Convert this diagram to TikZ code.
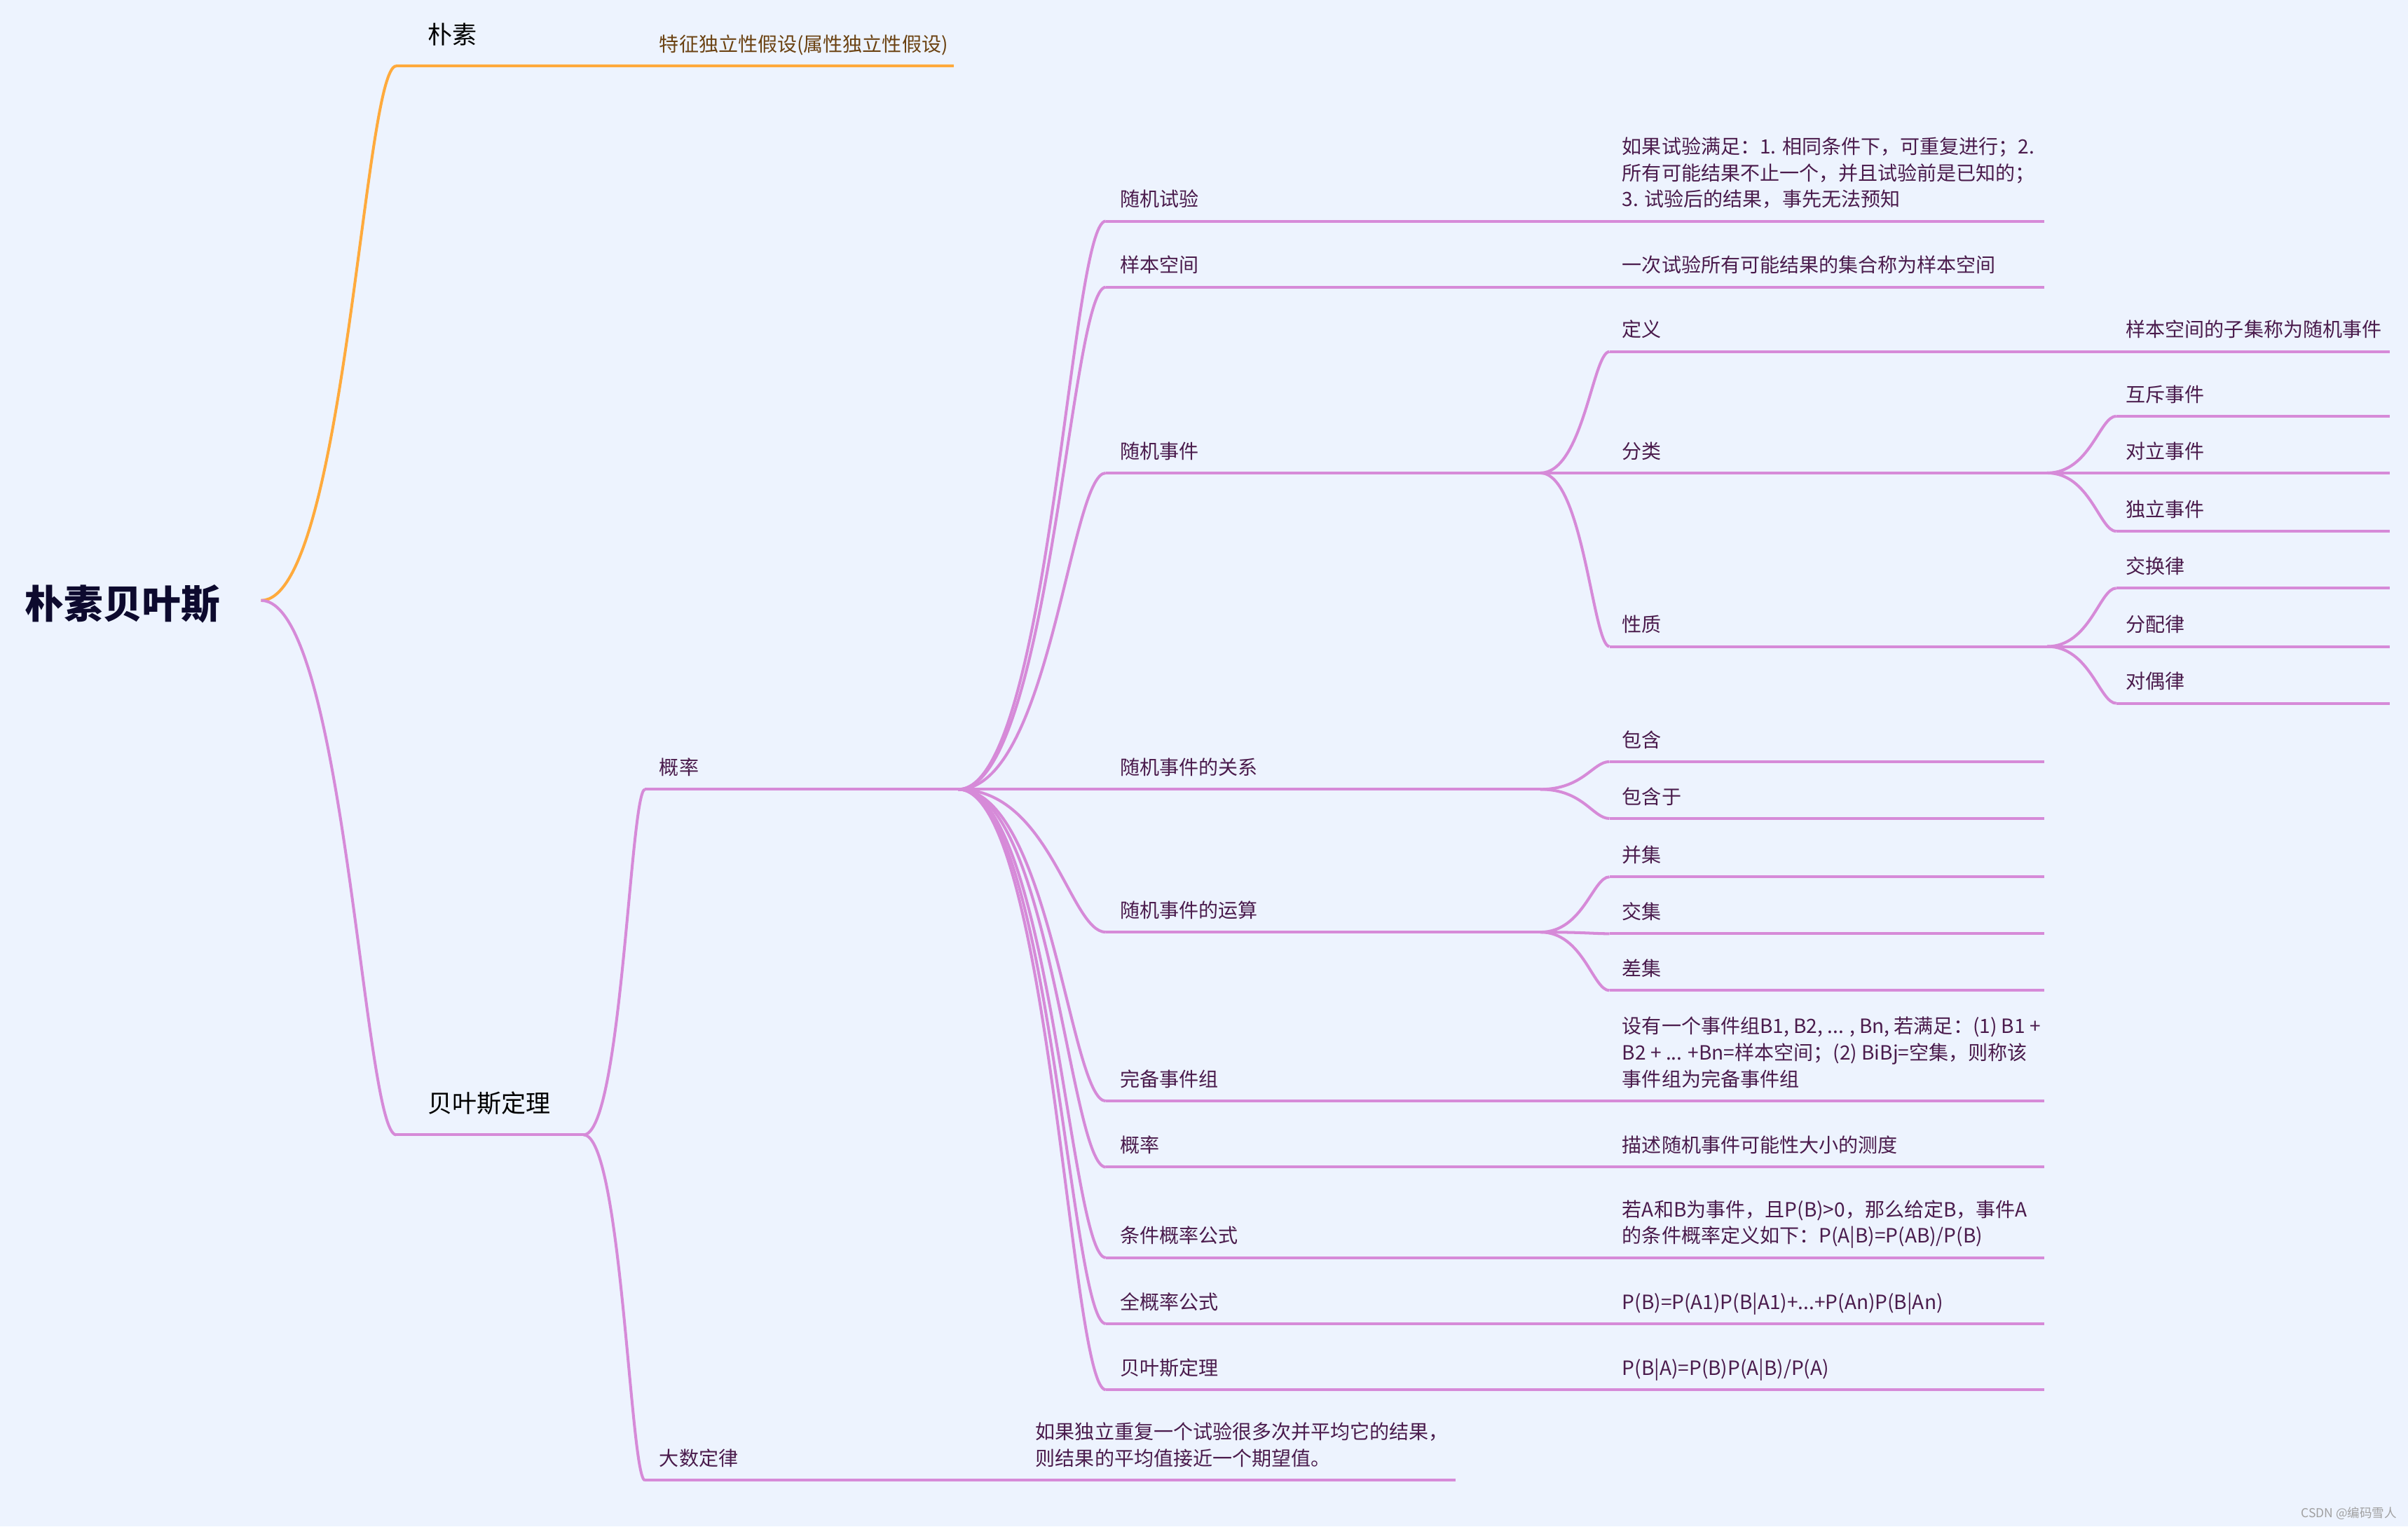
\documentclass[tikz,border=0pt]{standalone}
\usepackage{fontspec}
\setmainfont{Noto Sans CJK SC}
\usetikzlibrary{calc}
\definecolor{bg}{HTML}{EDF3FE}
\definecolor{orng}{HTML}{FFAA3C}
\definecolor{purp}{HTML}{D68AD8}
\definecolor{txt}{HTML}{4A1B4C}
\definecolor{brn}{HTML}{6B4212}
\definecolor{rootc}{HTML}{0D0A2E}
\definecolor{wmc}{HTML}{A0A0A0}
\tikzset{
  br/.style={draw=purp, line width=0.92pt},
  bro/.style={draw=orng, line width=0.92pt},
  lbl/.style={anchor=base west, inner sep=0pt, text=txt, font=\fontsize{6.4}{8.6}\selectfont},
  big/.style={anchor=base west, inner sep=0pt, text=black, yshift=2.5pt, font=\fontsize{8}{10}\selectfont},
}
\newcommand\mmlink[3][br]{\draw[#1] let \p1=(#2), \p2=(#3) in (\p1) .. controls ({\x1+0.62*(\x2-\x1)},\y1) and ({\x1+0.76*(\x2-\x1)},\y2) .. (\p2);}
\newcommand\mmtp[7][lbl]{\coordinate (#2s) at (#3,#5); \coordinate (#2e) at (#4,#5); \draw[br] (#2s) -- (#2e); \node[#1] (#2) at (#6,{#5-9.5}) {#7};}
\newcommand\mmlines[1]{\vbox{#1}}
\begin{document}
\begin{tikzpicture}[x=0.5pt,y=-0.5pt]
\fill[bg] (0,0) rectangle (1568,994);
\useasboundingbox (0,0) rectangle (1568,994);
% root
\node[anchor=base west, inner sep=0pt, text=rootc, font=\fontsize{12.7}{15}\selectfont\bfseries] (root) at (16,402.5) {朴素贝叶斯};
\coordinate (R) at (170,391);
% 朴素
\coordinate (a1s) at (258,43); \coordinate (a1e) at (415,43);
\draw[bro] (a1s) -- (a1e);
\node[big] (a1) at (278,33.5) {朴素};
\coordinate (a1ls) at (420,43); \coordinate (a1le) at (621,43);
\draw[bro] (a1ls) -- (a1le);
\node[lbl, text=brn] (a1l) at (429,33.5) {特征独立性假设(属性独立性假设)};
\mmlink[bro]{R}{a1s}
\mmlink[bro]{a1e}{a1ls}
% 贝叶斯定理
\mmtp[big]{a2}{258}{380}{739}{278}{贝叶斯定理}
\mmlink{R}{a2s}
\mmtp{b1}{420}{624}{514}{429}{概率}
\mmtp{b2}{420}{665}{964}{429}{大数定律}
\mmtp{b2l}{670}{948}{964}{674}{\mmlines{\hbox{如果独立重复一个试验很多次并平均它的结果，}\hbox{则结果的平均值接近一个期望值。}}}
\mmlink{a2e}{b1s}
\mmlink{a2e}{b2s}
\mmlink{b2e}{b2ls}
% level 3
\mmtp{c1}{720}{1040}{144}{729}{随机试验}
\mmtp{c1l}{1045}{1331}{144}{1056}{\mmlines{\hbox{如果试验满足：1. 相同条件下，可重复进行；2.}\hbox{所有可能结果不止一个，并且试验前是已知的；}\hbox{3. 试验后的结果，事先无法预知}}}
\mmtp{c2}{720}{1040}{187}{729}{样本空间}
\mmtp{c2l}{1045}{1331}{187}{1056}{一次试验所有可能结果的集合称为样本空间}
\mmtp{c3}{720}{1003}{308}{729}{随机事件}
\mmtp{d1}{1048}{1333}{229}{1056}{定义}
\mmtp{d1l}{1378}{1556}{229}{1384}{样本空间的子集称为随机事件}
\mmtp{d2}{1048}{1333}{308}{1056}{分类}
\mmtp{e1}{1378}{1556}{271}{1384}{互斥事件}
\mmtp{e2}{1378}{1556}{308}{1384}{对立事件}
\mmtp{e3}{1378}{1556}{346}{1384}{独立事件}
\mmtp{d3}{1048}{1333}{421}{1056}{性质}
\mmtp{e4}{1378}{1556}{383}{1384}{交换律}
\mmtp{e5}{1378}{1556}{421}{1384}{分配律}
\mmtp{e6}{1378}{1556}{458}{1384}{对偶律}
\mmtp{c4}{720}{1003}{514}{729}{随机事件的关系}
\mmtp{f1}{1048}{1331}{496}{1056}{包含}
\mmtp{f2}{1048}{1331}{533}{1056}{包含于}
\mmtp{c5}{720}{1003}{607}{729}{随机事件的运算}
\mmtp{g1}{1048}{1331}{571}{1056}{并集}
\mmtp{g2}{1048}{1331}{608}{1056}{交集}
\mmtp{g3}{1048}{1331}{645}{1056}{差集}
\mmtp{c6}{720}{1040}{717}{729}{完备事件组}
\mmtp{c6l}{1045}{1331}{717}{1056}{\mmlines{\hbox{设有一个事件组B1, B2, ... , Bn, 若满足：(1) B1 +}\hbox{B2 + ... +Bn=样本空间；(2) BiBj=空集，则称该}\hbox{事件组为完备事件组}}}
\mmtp{c7}{720}{1040}{760}{729}{概率}
\mmtp{c7l}{1045}{1331}{760}{1056}{描述随机事件可能性大小的测度}
\mmtp{c8}{720}{1040}{819}{729}{条件概率公式}
\mmtp{c8l}{1045}{1331}{819}{1056}{\mmlines{\hbox{若A和B为事件，且P(B)>0，那么给定B，事件A}\hbox{的条件概率定义如下：P(A|B)=P(AB)/P(B)}}}
\mmtp{c9}{720}{1040}{862}{729}{全概率公式}
\mmtp{c9l}{1045}{1331}{862}{1056}{P(B)=P(A1)P(B|A1)+...+P(An)P(B|An)}
\mmtp{c10}{720}{1040}{905}{729}{贝叶斯定理}
\mmtp{c10l}{1045}{1331}{905}{1056}{P(B|A)=P(B)P(A|B)/P(A)}
% links level 3
\foreach \c in {c1,c2,c3,c4,c5,c6,c7,c8,c9,c10} {\mmlink{b1e}{\c s}}
\foreach \c in {c1,c2,c6,c7,c8,c9,c10} {\mmlink{\c e}{\c ls}}
\foreach \c in {d1,d2,d3} {\mmlink{c3e}{\c s}}
\mmlink{d1e}{d1ls}
\foreach \c in {e1,e2,e3} {\mmlink{d2e}{\c s}}
\foreach \c in {e4,e5,e6} {\mmlink{d3e}{\c s}}
\foreach \c in {f1,f2} {\mmlink{c4e}{\c s}}
\foreach \c in {g1,g2,g3} {\mmlink{c5e}{\c s}}
% watermark
\node[anchor=base east, inner sep=0pt, text=wmc, font=\fontsize{4}{5}\selectfont] (wm) at (1561,988) {CSDN @编码雪人};
\end{tikzpicture}
\end{document}
